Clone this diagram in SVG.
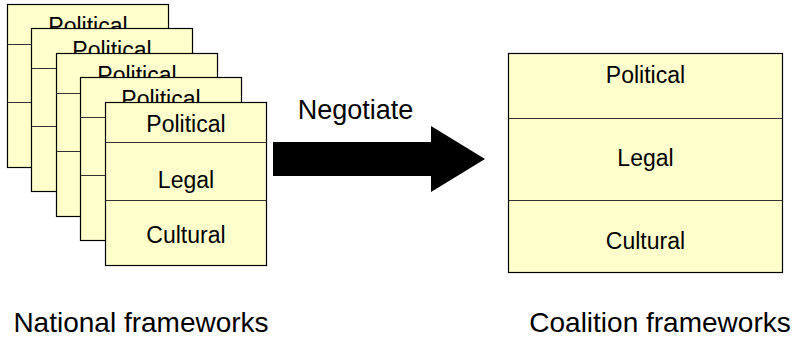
<svg xmlns="http://www.w3.org/2000/svg" width="799" height="338" viewBox="0 0 799 338">
<style>
.box{fill:#FFFFCC;stroke:#000;stroke-width:1.2}
.div{stroke:#333;stroke-width:1.2}
.lbl{font-family:"Liberation Sans",Arial,sans-serif;font-size:23px;fill:#000;text-anchor:middle}
.cap{font-family:"Liberation Sans",Arial,sans-serif;font-size:28px;fill:#000;text-anchor:middle}
</style>
<rect width="799" height="338" fill="#fff"/>
<g id="national-1" transform="translate(7.5,4.5)">
<rect class="box" x="0" y="0" width="161" height="163"/>
<line class="div" x1="0" y1="40" x2="161" y2="40"/>
<line class="div" x1="0" y1="98" x2="161" y2="98"/>
<text class="lbl" x="80.5" y="29">Political</text>
</g>
<g id="national-2" transform="translate(31.5,28.5)">
<rect class="box" x="0" y="0" width="161" height="163"/>
<line class="div" x1="0" y1="40" x2="161" y2="40"/>
<line class="div" x1="0" y1="98" x2="161" y2="98"/>
<text class="lbl" x="80.5" y="29">Political</text>
</g>
<g id="national-3" transform="translate(56.5,53.5)">
<rect class="box" x="0" y="0" width="161" height="163"/>
<line class="div" x1="0" y1="40" x2="161" y2="40"/>
<line class="div" x1="0" y1="98" x2="161" y2="98"/>
<text class="lbl" x="80.5" y="29">Political</text>
</g>
<g id="national-4" transform="translate(80.5,77.5)">
<rect class="box" x="0" y="0" width="161" height="163"/>
<line class="div" x1="0" y1="40" x2="161" y2="40"/>
<line class="div" x1="0" y1="98" x2="161" y2="98"/>
<text class="lbl" x="80.5" y="29">Political</text>
</g>
<g id="national-5" transform="translate(105.5,102.5)">
<rect class="box" x="0" y="0" width="161" height="163"/>
<line class="div" x1="0" y1="40" x2="161" y2="40"/>
<line class="div" x1="0" y1="98" x2="161" y2="98"/>
<text class="lbl" x="80.5" y="29">Political</text>
<text class="lbl" x="80.5" y="85">Legal</text>
<text class="lbl" x="80.5" y="140">Cultural</text>
</g>
<g id="coalition" transform="translate(508.5,53.5)">
<rect class="box" x="0" y="0" width="274" height="219"/>
<line class="div" x1="0" y1="65" x2="274" y2="65"/>
<line class="div" x1="0" y1="147" x2="274" y2="147"/>
<text class="lbl" x="137" y="29.5">Political</text>
<text class="lbl" x="137" y="112.5">Legal</text>
<text class="lbl" x="137" y="195.5">Cultural</text>
</g>
<g id="connectors">
<polygon points="273,142 431,142 431,126 485,159 431,192 431,176 273,176" fill="#000"/>
<text x="355.5" y="119" font-family="'Liberation Sans',Arial,sans-serif" font-size="27" text-anchor="middle" fill="#000">Negotiate</text>
</g>
<text class="cap" x="141" y="332">National frameworks</text>
<text class="cap" x="660" y="332">Coalition frameworks</text>
</svg>
